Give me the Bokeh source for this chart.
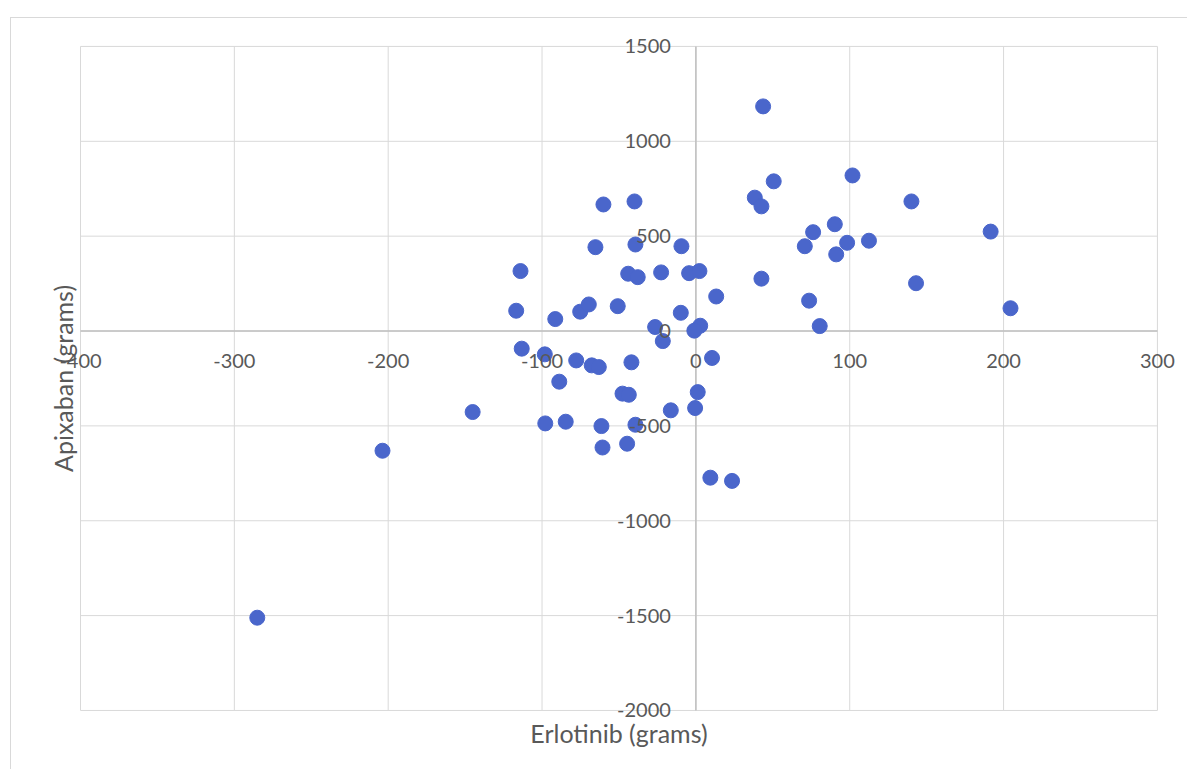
import math
from bokeh.plotting import figure
from bokeh.models import Range1d, LabelSet, Label, ColumnDataSource
from bokeh.core.properties import value
from bokeh.embed import file_html
from bokeh.resources import INLINE

# Erlotinib (grams)
erlotinib = [
    -65.3, -39.3, -9.4, -114.0, -44.0, -37.8, -22.6, -4.4, 2.3, 13.2,
    -116.8, -91.4, -75.2, -69.6, -50.8, -9.8, -26.5, 2.8, -1.0, -21.5,
    -113.2, -98.2, -77.8, -67.7, -63.1, -41.9, 10.5, -88.8, -47.7, -43.6,
    1.2, -145.1, -16.3, -0.5, -97.9, -84.6, -61.4, -39.3, -60.7, -44.7,
    9.4, 23.5, 43.7, 50.6, 38.3, 42.6, 101.8, 140.1, 90.3, 76.2,
    70.8, 98.3, 112.5, 91.2, 191.6, 42.6, 143.1, 73.6, 80.5, 204.5,
    -203.7, -285.1, -60.1, -39.9,
]
# Apixaban (grams)
apixaban = [
    442, 456, 447, 316, 302, 284, 309, 305, 316, 182,
    107, 63, 102, 140, 131, 96, 21, 28, 2, -53,
    -93, -123, -155, -181, -190, -165, -142, -267, -330, -336,
    -322, -427, -418, -406, -487, -478, -501, -494, -614, -594,
    -773, -790, 1184, 789, 703, 657, 820, 683, 563, 521,
    447, 465, 476, 404, 524, 276, 252, 160, 26, 120,
    -631, -1511, 667, 683,
]

x_ticks = [-400, -300, -200, -100, 0, 100, 200, 300]
y_ticks = [-2000, -1500, -1000, -500, 0, 500, 1000, 1500]
x_tick_labels = [str(t) for t in x_ticks]
y_tick_labels = [str(t) for t in y_ticks]
x_title = "Erlotinib (grams)"
y_title = "Apixaban (grams)"

FONT = "Lato"
TXT = "#595959"
GRID = "#d9d9d9"
AXIS = "#bfbfbf"
DOT = "#4A66CB"

xmin, xmax = min(x_ticks), max(x_ticks)
ymin, ymax = min(y_ticks), max(y_ticks)

# The frame is a little larger than the axis extent so that the labels
# around the edge are not clipped (same scale: ~1.5386 px/unit, 0.1897 px/unit)
p = figure(
    width=1177, height=752,
    x_range=Range1d(xmin - 26, xmax + 15),
    y_range=Range1d(ymin - 211, ymax + 84),
    output_backend="svg", toolbar_location=None,
    min_border_left=29, min_border_right=8,
    min_border_top=12, min_border_bottom=20,
)
p.margin = (18, 0, 0, 11)
p.styles = {"box-shadow": "-1px -1px 0 0 #d9d9d9"}
p.outline_line_color = None
p.background_fill_color = "white"
p.border_fill_color = "white"
p.axis.visible = False
p.grid.visible = False

# gridlines bounded by the tick extent
nx, ny = len(x_ticks), len(y_ticks)
p.segment(x0=x_ticks, y0=[ymin] * nx, x1=x_ticks, y1=[ymax] * nx,
          line_color=GRID, line_width=1)
p.segment(x0=[xmin] * ny, y0=y_ticks, x1=[xmax] * ny, y1=y_ticks,
          line_color=GRID, line_width=1)
# axis lines crossing at (0, 0)
p.segment(x0=[xmin, 0], y0=[0, ymin], x1=[xmax, 0], y1=[0, ymax],
          line_color=AXIS, line_width=1.5)

p.scatter(erlotinib, apixaban, size=15, fill_color=DOT,
          line_color=DOT, line_width=1)

# tick labels at the axes crossing
xsrc = ColumnDataSource(dict(x=x_ticks, y=[0] * nx, t=x_tick_labels))
ysrc = ColumnDataSource(dict(x=[0] * ny, y=y_ticks, t=y_tick_labels))
p.add_layout(LabelSet(x="x", y="y", text="t", source=xsrc, y_offset=-30,
                      text_align="center", text_baseline="middle",
                      text_font=value(FONT), text_font_size=value("20px"),
                      text_color=TXT))
p.add_layout(LabelSet(x="x", y="y", text="t", source=ysrc, x_offset=-25,
                      text_align="right", text_baseline="middle",
                      text_font=value(FONT), text_font_size=value("20px"),
                      text_color=TXT))

# axis titles
p.add_layout(Label(x=(xmin + xmax) / 2, y=ymin, y_offset=-23, text=x_title,
                   text_align="center", text_baseline="middle",
                   text_font=FONT, text_font_size="25px", text_color=TXT))
p.add_layout(Label(x=xmin, y=(ymin + ymax) / 2, x_offset=-18, text=y_title,
                   angle=math.pi / 2,
                   text_align="center", text_baseline="middle",
                   text_font=FONT, text_font_size="25px", text_color=TXT))

open("out.html", "w").write(file_html(p, INLINE))
